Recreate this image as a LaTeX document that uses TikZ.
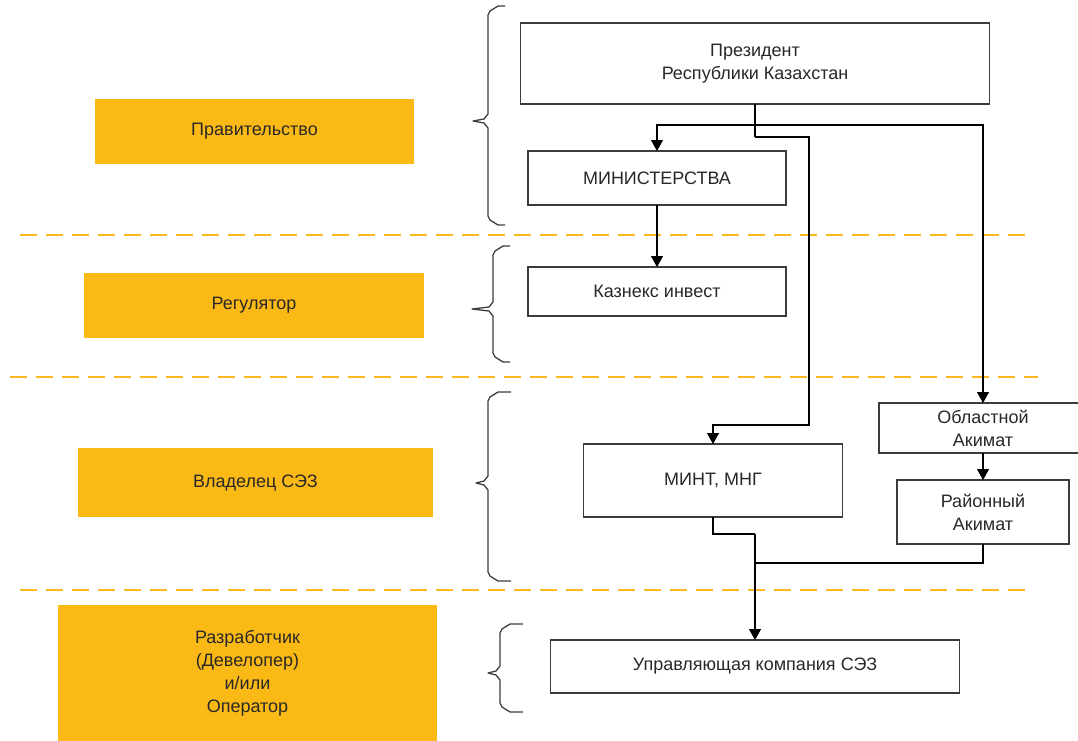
\documentclass[tikz,border=0pt]{standalone}
\usepackage{fontspec}
\setmainfont{Liberation Sans}
\usetikzlibrary{arrows.meta}
\definecolor{orng}{RGB}{251,185,22}
\definecolor{dsh}{RGB}{252,184,30}
\definecolor{txt}{RGB}{40,40,40}
\definecolor{edge}{RGB}{60,60,60}
\tikzset{
  wbox/.style={draw=edge,line width=1.1pt,fill=white,inner sep=0pt,outer sep=0pt,align=center,text=txt,font=\fontsize{18}{23}\selectfont},
  obox/.style={fill=orng,draw=none,inner sep=0pt,outer sep=0pt,align=center,text=txt,font=\fontsize{18}{23}\selectfont},
  conn/.style={draw=black,line width=1.2pt},
  arr/.style={conn,-{Triangle[width=12pt,length=11pt]}},
  sep/.style={draw=dsh,line width=2.6pt,dash pattern=on 17pt off 9pt},
  bracestyle/.style={draw=edge,line width=1.3pt,line join=round}
}
\newcommand{\mybrace}[6]{% xv, ytop, ybot, ymid, xtip, xend
  \draw[bracestyle] ({#6},{#2}) -- ({#1+10},{#2}) -- ({#1+2},{#2+5}) -- ({#1},{#2+9})
    -- ({#1},{#4-7}) -- ({#1-4},{#4-2}) -- ({#5},{#4}) -- ({#1-4},{#4+2}) -- ({#1},{#4+7})
    -- ({#1},{#3-9}) -- ({#1+2},{#3-5}) -- ({#1+10},{#3}) -- ({#6},{#3});}
\begin{document}
\begin{tikzpicture}[x=1pt,y=-1pt]
\useasboundingbox (0,0) rectangle (1078,740);
\clip (0,0) rectangle (1078,740);
% separators
\draw[sep] (20,235) -- (1030,235);
\draw[sep] (10,377) -- (1038,377);
\draw[sep] (20,590) -- (1030,590);
% orange labels
\node[obox,minimum width=319pt,minimum height=65pt] (gov) at (254.5,131.5) {Правительство};
\node[obox,minimum width=340pt,minimum height=65pt] (reg) at (254,305.5) {Регулятор};
\node[obox,minimum width=355pt,minimum height=69pt] (own) at (255.5,482.5) {Владелец СЭЗ};
\node[obox,minimum width=379pt,minimum height=137pt] (dev) at (247.5,673.5) {Разработчик\\(Девелопер)\\и/или\\Оператор};
% braces
\mybrace{488}{6}{225}{121}{473}{505}
\mybrace{493}{246}{362}{309}{472}{510}
\mybrace{488}{392}{581}{483}{476}{511}
\mybrace{500}{624}{712}{673}{488}{523}
% white boxes
\node[wbox,minimum width=469pt,minimum height=81pt] (pres) at (755,63.5) {Президент\\Республики Казахстан};
\node[wbox,minimum width=258pt,minimum height=54pt] (min) at (657,178) {МИНИСТЕРСТВА};
\node[wbox,minimum width=258pt,minimum height=49pt] (kaz) at (657,291.5) {Казнекс инвест};
\node[wbox,minimum width=259pt,minimum height=73pt] (mint) at (713,480.5) {МИНТ, МНГ};
\node[wbox,minimum width=208pt,minimum height=50pt] (obl) at (983,428) {Областной\\Акимат};
\node[wbox,minimum width=172pt,minimum height=64pt] (ray) at (983,512) {Районный\\Акимат};
\node[wbox,minimum width=409pt,minimum height=53pt] (upr) at (755,666.5) {Управляющая компания СЭЗ};
% junctions
\coordinate (j1) at (755,125);
\coordinate (j1b) at (755,137);
\coordinate (c1) at (809,425);
\coordinate (j2) at (755,534);
\coordinate (j3) at (755,563);
% connectors
\draw[conn] (pres.south) -- (j1);
\draw[arr] (j1) -| (min.north);
\draw[arr] (j1) -| (obl.north);
\draw[conn] (j1) -- (j1b);
\draw[arr] (j1b) -| (c1) -| (mint.north);
\draw[arr] (min.south) -- (kaz.north);
\draw[arr] (obl.south) -- (ray.north);
\draw[conn] (mint.south) |- (j2);
\draw[conn] (ray.south) |- (j3);
\draw[arr] (j2) -- (upr.north);
\end{tikzpicture}
\end{document}
